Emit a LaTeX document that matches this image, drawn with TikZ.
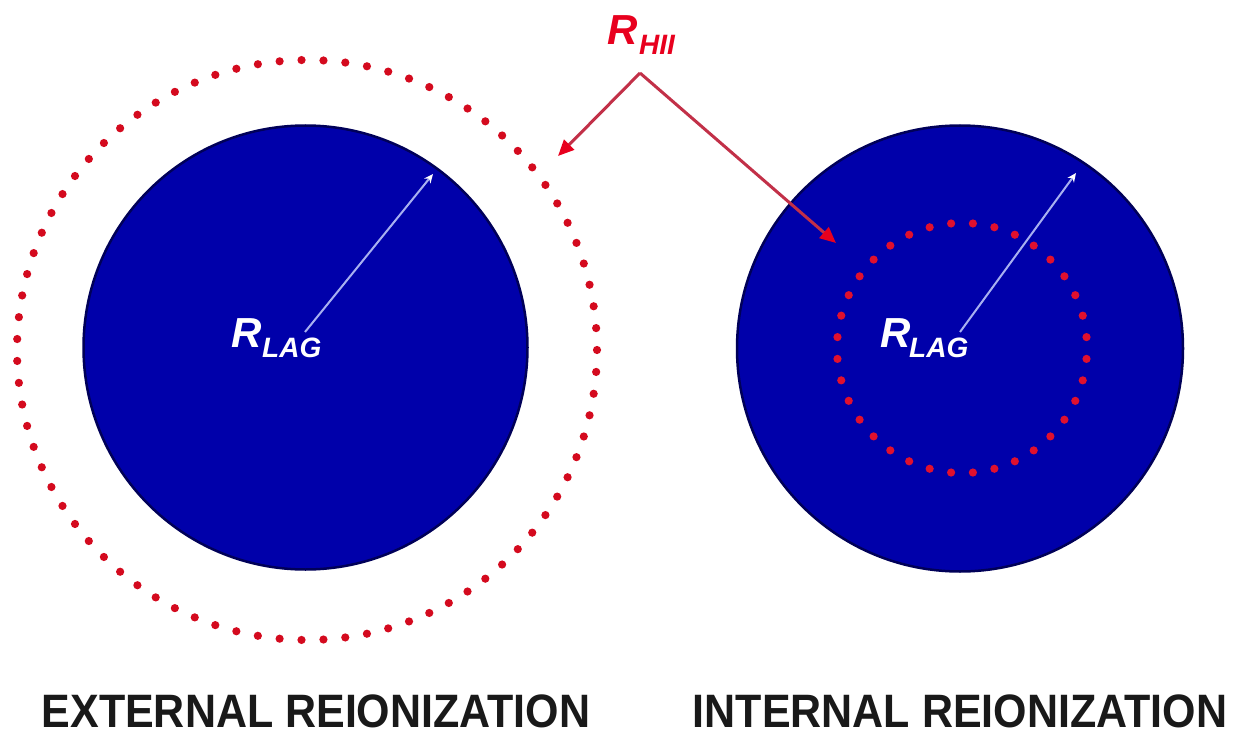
\documentclass[tikz,border=0pt]{standalone}
\usepackage{fontspec}
\setmainfont{Liberation Sans}
\usetikzlibrary{arrows.meta,calc}
\definecolor{cloudblue}{HTML}{0000AA}
\definecolor{cloudedge}{HTML}{000058}
\definecolor{dotred}{HTML}{D40A1E}
\definecolor{dotredin}{HTML}{E0102E}
\definecolor{pointerred}{HTML}{C23048}
\definecolor{tipred}{HTML}{E8001E}
\definecolor{radiusline}{HTML}{A8B0F0}
\tikzset{
  cloud/.style={fill=cloudblue,draw=cloudedge,line width=2.5pt},
  radiusarrow/.style={draw=radiusline,line width=2pt,
    -{Stealth[length=9pt,width=8pt,fill=white,color=white]}},
  pointer/.style={draw=pointerred,line width=3pt,
    -{Triangle[length=16pt,width=14pt,fill=tipred,color=tipred]}},
  bigR/.style={font=\bfseries\itshape\fontsize{42}{42}\selectfont,inner sep=0pt,anchor=base west},
  subR/.style={font=\bfseries\itshape\fontsize{28}{28}\selectfont,inner sep=0pt,anchor=base west},
  caption/.style={font=\bfseries\fontsize{43}{43}\selectfont,inner sep=0pt,
    text depth=0pt,anchor=base,text=black!90}
}
\newcommand{\tallcaps}[1]{\scalebox{1}[1.09]{#1}}
\begin{document}
\begin{tikzpicture}[x=1pt,y=-1pt]
\useasboundingbox[fill=white] (0,0) rectangle (1248,733);

% centres of the two clouds
\coordinate (cl) at (305.5,347.5);
\coordinate (cr) at (960,348.5);

% neutral clouds
\path[cloud] (cl) circle (222pt);
\path[cloud] (cr) circle (223pt);

% ionised fronts drawn as rings of dots
\coordinate (rl) at (307,350);
\coordinate (rr) at (962,348);
\foreach \i in {1,...,83}
  \fill[dotred] ($(rl)+({\i/83*360}:290pt)$) circle (4.1pt);
\foreach \i in {1,...,36}
  \fill[dotredin] ($(rr)+({\i/36*360+5}:125pt)$) circle (4.1pt);

% radius arrows
\coordinate (al0) at (305,332);
\coordinate (al1) at (433,174);
\coordinate (ar0) at (960,332);
\coordinate (ar1) at (1076,173);
\draw[radiusarrow] (al0) -- (al1);
\draw[radiusarrow] (ar0) -- (ar1);

% radius labels
\node[bigR,text=white] (lagLR) at (231,347) {R};
\node[subR,text=white] (lagLs) at (262,357) {LAG};
\node[bigR,text=white] (lagRR) at (880,347) {R};
\node[subR,text=white] (lagRs) at (909,357) {LAG};

% ionisation radius label and pointers
\node[bigR,text=tipred] (hiiR) at (607,45) {R};
\node[subR,text=tipred] (hiis) at (639,55) {HII};
\coordinate (apex) at (640,73);
\coordinate (tipL) at (558,156);
\coordinate (tipR) at (836,243);
\draw[pointer] (apex) -- (tipL);
\draw[pointer] (apex) -- (tipR);

% captions
\node[caption] (capL) at (316,727) {\tallcaps{EXTERNAL REIONIZATION}};
\node[caption] (capR) at (960,727) {\tallcaps{INTERNAL REIONIZATION}};
\end{tikzpicture}
\end{document}
